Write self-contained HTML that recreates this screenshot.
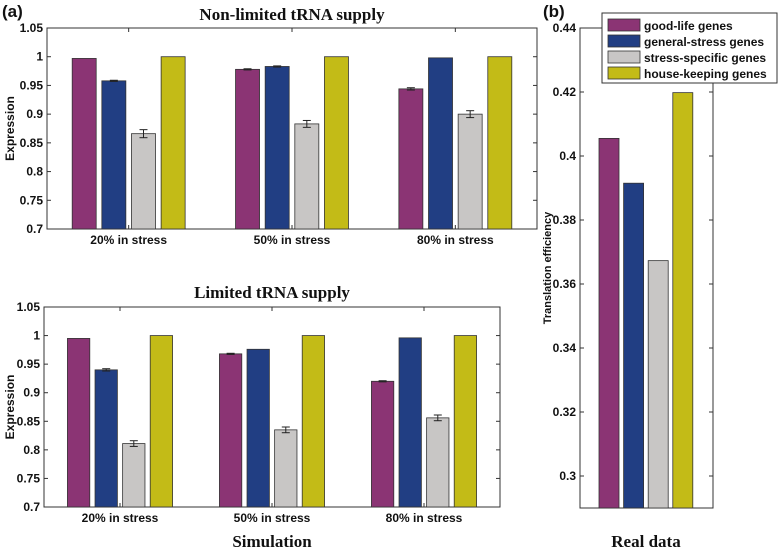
<!DOCTYPE html>
<html><head><meta charset="utf-8"><style>
body{margin:0;background:#fff;width:779px;height:550px;overflow:hidden}
svg text{font-family:"Liberation Sans",Arial,sans-serif;font-weight:bold;fill:#111}
.serif{font-family:"Liberation Serif","Times New Roman",serif !important}
</style></head><body>
<svg id="c" width="779" height="550" xmlns="http://www.w3.org/2000/svg"></svg>
<script>
const groups=["20% in stress","50% in stress","80% in stress"];
const series=["good-life genes","general-stress genes","stress-specific genes","house-keeping genes"];
const colors=["#8b3474","#213e83","#c8c6c5","#c3bb17"];
const topVals=[[0.997,0.958,0.866,1.0],[0.978,0.983,0.883,1.0],[0.944,0.998,0.900,1.0]];
const topErr=[[0,0.001,0.007,0],[0.001,0.001,0.006,0],[0.002,0,0.006,0]];
const botVals=[[0.995,0.940,0.811,1.0],[0.968,0.976,0.835,1.0],[0.920,0.996,0.856,1.0]];
const botErr=[[0,0.002,0.005,0],[0.001,0,0.005,0],[0.001,0,0.005,0]];
const yTicks=[0.7,0.75,0.8,0.85,0.9,0.95,1,1.05];
const yTickLabels=["0.7","0.75","0.8","0.85","0.9","0.95","1","1.05"];
const realVals=[0.4055,0.3915,0.3673,0.4198];
const realTicks=[0.3,0.32,0.34,0.36,0.38,0.4,0.42,0.44];
const realTickLabels=["0.3","0.32","0.34","0.36","0.38","0.4","0.42","0.44"];
const svg=document.getElementById('c');
const NS="http://www.w3.org/2000/svg";
function mk(t,a,txt){const e=document.createElementNS(NS,t);for(const k in a)e.setAttribute(k,a[k]);if(txt!==undefined)e.textContent=txt;svg.appendChild(e);return e;}
function panel(x0,x1,y0,y1,vals,errs,title,ty,nm){
  const w=x1-x0;
  const y=v=>y1-(v-0.7)/(0.35)*(y1-y0);
  const t=mk('text',{x:(x0+x1)/2,y:ty,'text-anchor':'middle','font-size':'17',class:'serif'},title);
  
  const r=mk('rect',{x:x0,y:y0,width:w,height:y1-y0,fill:'none',stroke:'#333','stroke-width':1});
  
  yTicks.forEach((v,i)=>{
    const yy=y(v);
    mk('line',{x1:x0,x2:x0+4,y1:yy,y2:yy,stroke:'#333'});
    mk('line',{x1:x1,x2:x1-4,y1:yy,y2:yy,stroke:'#333'});
    const l=mk('text',{x:x0-4,y:yy+4,'text-anchor':'end','font-size':'12'},yTickLabels[i]);
    
  });
  const yl=mk('text',{x:0,y:0,'text-anchor':'middle','font-size':'12',transform:`translate(14,${(y0+y1)/2}) rotate(-90)`},'Expression');
  
  const pitch=w*0.0605,bw=w*0.049;
  groups.forEach((g,gi)=>{
    const cx=x0+w*(gi+0.5)/3;
    mk('line',{x1:cx,x2:cx,y1:y1,y2:y1-4,stroke:'#333'});
    mk('line',{x1:cx,x2:cx,y1:y0,y2:y0+4,stroke:'#333'});
    const gl=mk('text',{x:cx,y:y1+15,'text-anchor':'middle','font-size':'12'},g);
    
    vals[gi].forEach((v,si)=>{
      const bx=cx+(si-1.5)*pitch-bw/2;
      const b=mk('rect',{x:bx,y:y(v),width:bw,height:y1-y(v),fill:colors[si],stroke:'#333','stroke-width':0.8});
      
      const e=errs[gi][si];
      if(e>0){const c=bx+bw/2;
        mk('line',{x1:c,x2:c,y1:y(v+e),y2:y(v-e),stroke:'#222'});
        mk('line',{x1:c-4,x2:c+4,y1:y(v+e),y2:y(v+e),stroke:'#222'});
        mk('line',{x1:c-4,x2:c+4,y1:y(v-e),y2:y(v-e),stroke:'#222'});}
    });
  });
}
panel(47,537,28,229,topVals,topErr,'Non-limited tRNA supply',20,'top');
panel(44,500,307,507,botVals,botErr,'Limited tRNA supply',298,'bottom');
let t=mk('text',{x:2,y:17,'font-size':'17','font-weight':'normal'},'(a)');
t=mk('text',{x:543,y:17,'font-size':'17','font-weight':'normal'},'(b)');
t=mk('text',{x:272,y:547,'text-anchor':'middle','font-size':'17',class:'serif'},'Simulation');
t=mk('text',{x:646,y:547,'text-anchor':'middle','font-size':'17',class:'serif'},'Real data');
// right panel
const rx0=580,rx1=713,ry0=28,ry1=508;
const ry=v=>ry1-(v-0.29)/(0.15)*(ry1-ry0);
let ra=mk('rect',{x:rx0,y:ry0,width:rx1-rx0,height:ry1-ry0,fill:'none',stroke:'#333'});

realTicks.forEach((v,i)=>{const yy=ry(v);
  mk('line',{x1:rx0,x2:rx0+4,y1:yy,y2:yy,stroke:'#333'});mk('line',{x1:rx1,x2:rx1-4,y1:yy,y2:yy,stroke:'#333'});
  const l=mk('text',{x:rx0-4,y:yy+4,'text-anchor':'end','font-size':'12'},realTickLabels[i]);
  });
t=mk('text',{x:0,y:0,'text-anchor':'middle','font-size':'11',transform:`translate(551,268) rotate(-90)`},'Translation efficiency');

realVals.forEach((v,i)=>{const bx=599+i*24.6;
  const b=mk('rect',{x:bx,y:ry(v),width:20,height:ry1-ry(v),fill:colors[i],stroke:'#333','stroke-width':0.8});
  });
// legend
const lg=mk('rect',{x:602,y:13,width:175,height:70,fill:'#fff',stroke:'#333'});

series.forEach((s,i)=>{const yy=19+i*16;
  const sw=mk('rect',{x:608,y:yy,width:32,height:12,fill:colors[i],stroke:'#333','stroke-width':0.8});
  
  const l=mk('text',{x:644,y:yy+11,'font-size':'12'},s);
  });
</script>
</body></html>
